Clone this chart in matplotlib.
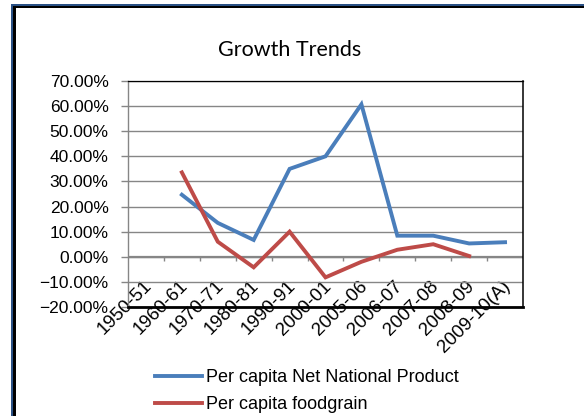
import matplotlib
matplotlib.use("Agg")
import matplotlib.pyplot as plt
import matplotlib.patches as mpatches
import matplotlib.transforms as mtransforms
from matplotlib.ticker import PercentFormatter, MultipleLocator
import numpy as np

W, H = 584, 416
plt.rcParams["font.family"] = "Liberation Sans"

categories = ["1950-51", "1960-61", "1970-71", "1980-81", "1990-91", "2000-01",
              "2005-06", "2006-07", "2007-08", "2008-09", "2009-10(A)"]
net_national_product = [np.nan, 0.247, 0.135, 0.067, 0.350, 0.400, 0.607,
                        0.084, 0.084, 0.053, 0.058]
foodgrain = [np.nan, 0.336, 0.060, -0.042, 0.100, -0.082, -0.020,
             0.028, 0.050, 0.003, np.nan]

BLUE = "#4a7ebb"
RED = "#be4b48"
GRID = "#868686"


def fx(x):
    return x / W


def fy(y):
    return 1 - y / H


fig = plt.figure(figsize=(W / 100, H / 100), dpi=100)
fig.patch.set_facecolor("white")

# outer chart border (blue + black, left and top only)
for (x0, y0, x1, y1, c) in [(11, 4, 13.3, H, "#2a5185"), (13.3, 6.3, 16, H, "black"),
                            (11, 4, W, 6.3, "#2a5185"), (13.3, 6.3, W, 8.3, "black")]:
    fig.add_artist(mpatches.Rectangle((fx(x0), fy(y1)), fx(x1 - x0), (y1 - y0) / H,
                                      transform=fig.transFigure, color=c, lw=0))

ax = fig.add_axes([fx(128), fy(307), fx(523 - 128), (307 - 81) / H])
x = np.arange(len(categories))
l1, = ax.plot(x, net_national_product, color=BLUE, lw=2.8, zorder=3,
              solid_joinstyle="miter", label="Per capita Net National Product")
l2, = ax.plot(x, foodgrain, color=RED, lw=2.8, zorder=3,
              solid_joinstyle="miter", label="Per capita foodgrain")

ax.set_xlim(-0.5, len(categories) - 0.5)
ax.set_ylim(-0.2, 0.7)
ax.yaxis.set_major_locator(MultipleLocator(0.1))
ax.yaxis.set_major_formatter(PercentFormatter(1.0, decimals=2))
ax.yaxis.grid(True, color=GRID, lw=1)
ax.set_axisbelow(True)
ax.axhline(0, color=GRID, lw=1.6, zorder=1)

ax.spines["left"].set_color(GRID)
ax.spines["left"].set_linewidth(1)
ax.spines["top"].set_color("black")
ax.spines["top"].set_linewidth(0.9)
ax.spines["right"].set_color("black")
ax.spines["right"].set_linewidth(1.1)
ax.spines["bottom"].set_color("black")
ax.spines["bottom"].set_linewidth(2)

ax.tick_params(axis="y", direction="out", length=5, width=1, color=GRID,
               pad=9, labelsize=12.5)

ax.set_xticks(x)
ax.set_xticklabels(categories, rotation=45, ha="right", va="center",
                   rotation_mode="anchor", fontsize=13.5)
ax.tick_params(axis="x", length=0, pad=-17)
shift = mtransforms.ScaledTranslation(3 / 100, 0, fig.dpi_scale_trans)
for lab in ax.get_xticklabels():
    lab.set_transform(lab.get_transform() + shift)

# category boundary ticks on the zero line
sec = ax.secondary_xaxis(0.2 / 0.9)
sec.set_xticks(np.arange(0.5, len(categories) - 1, 1))
sec.set_xticklabels([])
sec.tick_params(direction="out", length=3, width=1, color=GRID)
sec.spines["bottom"].set_visible(False)

fig.text(fx(290), fy(50), "Growth Trends", family="Lato", fontsize=15.5,
         ha="center", va="center")

fig.legend(handles=[l1, l2], loc="upper left",
           bbox_to_anchor=(fx(155), fy(369)), frameon=False, fontsize=13,
           handlelength=2.6, handletextpad=0.2, labelspacing=0.55,
           borderpad=0, borderaxespad=0)

fig.savefig("out.png", dpi=100)
